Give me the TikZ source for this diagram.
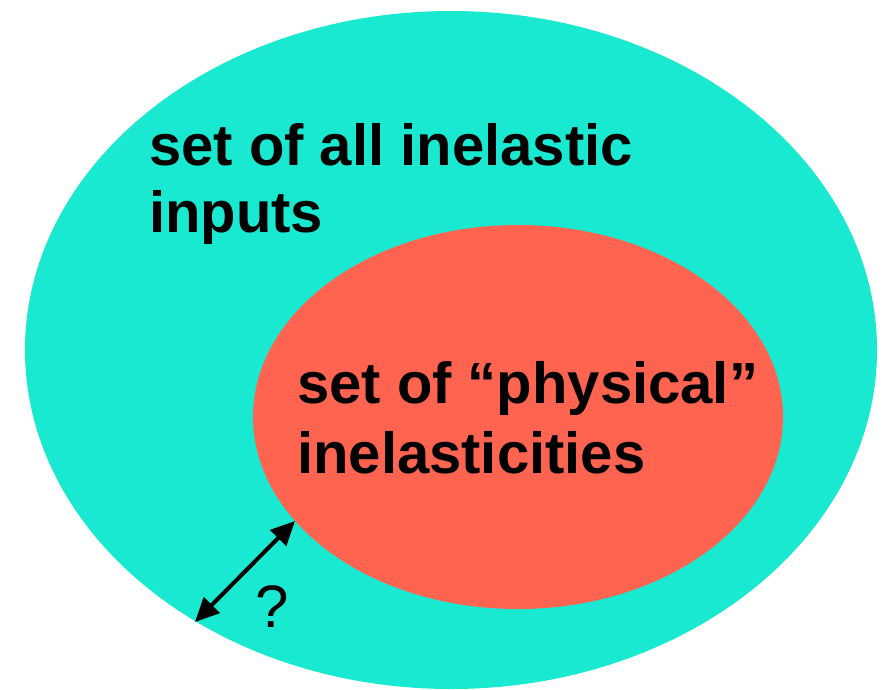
\documentclass[tikz,border=0pt]{standalone}
\usepackage{fontspec}
\setmainfont{Liberation Sans}
\usetikzlibrary{arrows.meta}
\definecolor{teal1}{RGB}{25,233,208}
\definecolor{red1}{RGB}{255,100,80}
\tikzset{
  lbl/.style={anchor=base west, inner sep=0pt, font=\fontsize{58}{67}\selectfont\bfseries},
  qlbl/.style={anchor=center, inner sep=0pt, font=\fontsize{60}{70}\selectfont},
  gap/.style={line width=4pt, {Triangle[length=24pt,width=22pt]}-{Triangle[length=24pt,width=22pt]}}
}
\begin{document}
\begin{tikzpicture}[x=1pt,y=-1pt]
\useasboundingbox (0,0) rectangle (882,689);
\fill[teal1] (451,350) ellipse [x radius=426, y radius=339];
\fill[red1] (518,417) ellipse [x radius=265, y radius=192];
\node[lbl] (a1) at (149,165) {set of all inelastic};
\node[lbl] (a2) at (149,232) {inputs};
\node[lbl] (b1) at (297,403) {set of “physical”};
\node[lbl] (b2) at (297,473) {inelasticities};
\coordinate (outer) at (195,622);
\coordinate (inner) at (295,521);
\draw[gap] (outer) -- (inner);
\node[qlbl] (q) at (272,607) {?};
\end{tikzpicture}
\end{document}
